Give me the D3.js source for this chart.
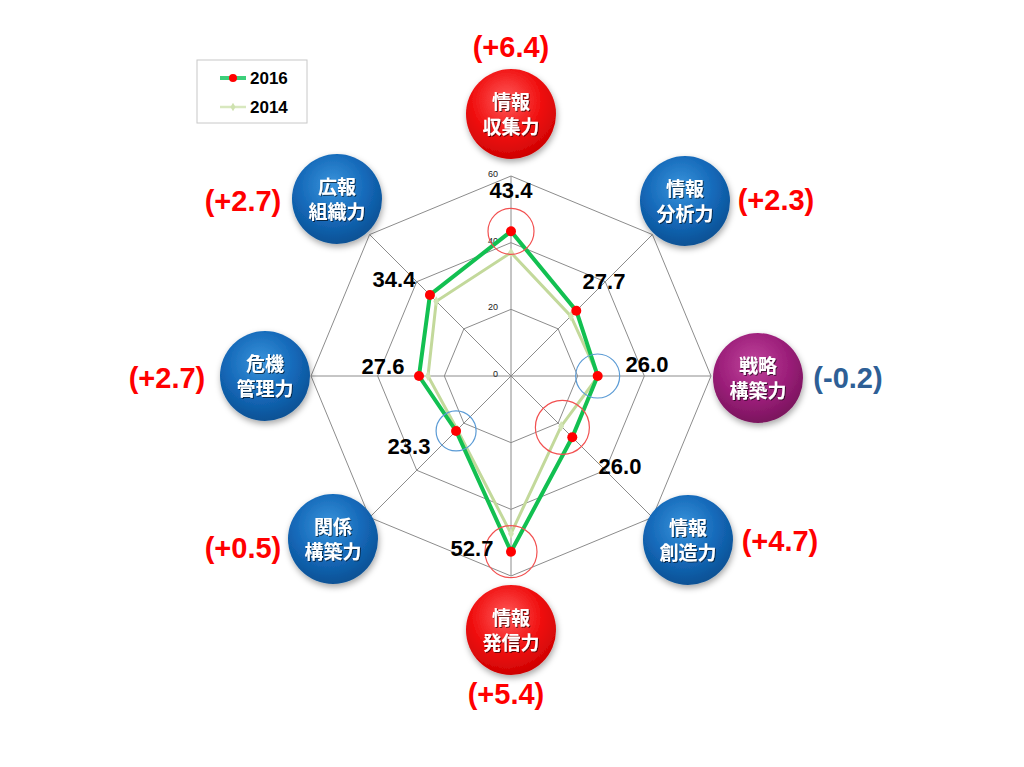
<!DOCTYPE html>
<html>
<head>
<meta charset="utf-8">
<script src="https://cdn.jsdelivr.net/npm/d3@7"></script>
<style>
  body { margin: 0; background: #fff; }
  svg { display: block; }
</style>
</head>
<body>
<div class="container"></div>
<script>
// data
var axes      = ["情報収集力", "情報分析力", "戦略構築力", "情報創造力", "情報発信力", "関係構築力", "危機管理力", "広報組織力"];
var line1     = ["情報", "情報", "戦略", "情報", "情報", "関係", "危機", "広報"];
var line2     = ["収集力", "分析力", "構築力", "創造力", "発信力", "構築力", "管理力", "組織力"];
var v2016     = [43.4, 27.7, 26.0, 26.0, 52.7, 23.3, 27.6, 34.4];
var v2014     = [37.0, 25.4, 26.2, 21.3, 47.3, 22.8, 24.9, 31.7];
var diffs     = ["(+6.4)", "(+2.3)", "(-0.2)", "(+4.7)", "(+5.4)", "(+0.5)", "(+2.7)", "(+2.7)"];
var ticks     = [0, 20, 40, 60];
var kind      = ["red", "blue", "purple", "blue", "red", "blue", "blue", "blue"];
// highlight circles: axis index, value, colour
var hlAxis    = [0, 2, 3, 4, 5];
var hlValue   = [43.4, 26.0, 21.8, 52.7, 23.3];
var hlColor   = ["#f25050", "#5b9bd5", "#f25050", "#f25050", "#5b9bd5"];

var width = 1024, height = 767;
var cx = 511, cy = 376, R = 200;
var num = "'Liberation Sans', Arial, sans-serif";
var jp  = "'Noto Sans CJK JP', sans-serif";

var svg = d3.select(".container").append("svg")
            .attr("width", width).attr("height", height);

var r = d3.scaleLinear().domain([0, 60]).range([0, R]);
var ang = d3.scaleLinear().domain([0, axes.length]).range([0, 2 * Math.PI]);

function pt(i, v) {
  var a = ang(i);
  return [cx + r(v) * Math.sin(a), cy - r(v) * Math.cos(a)];
}

var defs = svg.append("defs");
var grads = {
  red:    ["#ff5a5a", "#f01010", "#c80000"],
  blue:   ["#3a94dc", "#1468b8", "#0a4d8e"],
  purple: ["#c0449c", "#9c1f7a", "#741258"]
};
Object.keys(grads).forEach(function(k) {
  var g = defs.append("radialGradient").attr("id", "g-" + k)
              .attr("cx", "45%").attr("cy", "35%").attr("r", "70%");
  g.append("stop").attr("offset", "0%").attr("stop-color", grads[k][0]);
  g.append("stop").attr("offset", "55%").attr("stop-color", grads[k][1]);
  g.append("stop").attr("offset", "100%").attr("stop-color", grads[k][2]);
});
var sh = defs.append("filter").attr("id", "shadow")
             .attr("x", "-30%").attr("y", "-30%").attr("width", "160%").attr("height", "160%");
sh.append("feDropShadow").attr("dx", 1).attr("dy", 3).attr("stdDeviation", 3)
  .attr("flood-color", "#000").attr("flood-opacity", 0.35);
var tsh = defs.append("filter").attr("id", "tshadow");
tsh.append("feDropShadow").attr("dx", 1).attr("dy", 1).attr("stdDeviation", 0.6)
   .attr("flood-color", "#000").attr("flood-opacity", 0.6);

// grid
var grid = svg.append("g");
var ring = d3.lineRadial().angle(function(d, i) { return ang(i); })
             .radius(function(d) { return r(d); })
             .curve(d3.curveLinearClosed);
ticks.slice(1).forEach(function(t) {
  grid.append("path")
      .attr("transform", `translate(${cx},${cy})`)
      .attr("d", ring(axes.map(function() { return t; })))
      .attr("fill", "none").attr("stroke", "#8c8c8c").attr("stroke-width", 1);
});
axes.forEach(function(a, i) {
  var p = pt(i, 60);
  grid.append("line").attr("x1", cx).attr("y1", cy).attr("x2", p[0]).attr("y2", p[1])
      .attr("stroke", "#8c8c8c").attr("stroke-width", 1);
});
ticks.forEach(function(t) {
  grid.append("text").attr("x", cx - 13).attr("y", cy - r(t) + 1)
      .attr("text-anchor", "end").attr("font-family", num).attr("font-size", 9)
      .attr("fill", "#222").text(t);
});

// series
var radial = d3.lineRadial().angle(function(d, i) { return ang(i); })
               .radius(function(d) { return r(d); })
               .curve(d3.curveLinearClosed);
svg.append("path").attr("transform", `translate(${cx},${cy})`)
   .attr("d", radial(v2014)).attr("fill", "none")
   .attr("stroke", "#c3d99b").attr("stroke-width", 3);
svg.append("g").selectAll("path").data(v2014).enter().append("path")
   .attr("transform", function(d, i) { var p = pt(i, d); return `translate(${p[0]},${p[1]})`; })
   .attr("d", d3.symbol(d3.symbolDiamond, 30)).attr("fill", "#d2e4b4");
svg.append("path").attr("transform", `translate(${cx},${cy})`)
   .attr("d", radial(v2016)).attr("fill", "none")
   .attr("stroke", "#12c051").attr("stroke-width", 4);
svg.append("g").selectAll("circle").data(v2016).enter().append("circle")
   .attr("cx", function(d, i) { return pt(i, d)[0]; })
   .attr("cy", function(d, i) { return pt(i, d)[1]; })
   .attr("r", 5).attr("fill", "#ff0000");

// highlight circles
var hlR = [23, 22, 27, 26, 20];
svg.append("g").selectAll("circle").data(hlAxis).enter().append("circle")
   .attr("cx", function(d, k) { return pt(d, hlValue[k])[0]; })
   .attr("cy", function(d, k) { return pt(d, hlValue[k])[1]; })
   .attr("r", function(d, k) { return hlR[k]; })
   .attr("fill", "none").attr("stroke", function(d, k) { return hlColor[k]; })
   .attr("stroke-width", 1.2);

// value labels
var valPos = [[511, 198], [604, 289], [647, 372], [620, 474], [472, 556], [409, 454], [383, 374], [394, 287]];
svg.append("g").selectAll("text").data(v2016).enter().append("text")
   .attr("x", function(d, i) { return valPos[i][0]; })
   .attr("y", function(d, i) { return valPos[i][1]; })
   .attr("text-anchor", "middle").attr("font-family", num).attr("font-weight", "bold")
   .attr("font-size", 22).attr("fill", "#000")
   .text(function(d) { return d.toFixed(1); });

// bubbles
var bub = [[511, 114], [685, 201], [758, 378], [688, 540], [511, 630], [333, 539], [265, 376], [337, 199]];
var bubbles = svg.append("g").selectAll("g").data(axes).enter().append("g")
   .attr("transform", function(d, i) { return `translate(${bub[i][0]},${bub[i][1]})`; });
bubbles.append("circle").attr("r", 45)
   .attr("fill", function(d, i) { return `url(#g-${kind[i]})`; })
   .attr("filter", "url(#shadow)");
bubbles.append("text").attr("y", -5).attr("text-anchor", "middle")
   .attr("font-family", jp).attr("font-weight", "bold").attr("font-size", 19)
   .attr("fill", "#fff").attr("filter", "url(#tshadow)")
   .text(function(d, i) { return line1[i]; });
bubbles.append("text").attr("y", 20).attr("text-anchor", "middle")
   .attr("font-family", jp).attr("font-weight", "bold").attr("font-size", 19)
   .attr("fill", "#fff").attr("filter", "url(#tshadow)")
   .text(function(d, i) { return line2[i]; });

// change labels
var diffPos = [[511, 57], [776, 210], [848, 388], [780, 551], [506, 704], [243, 558], [167, 388], [243, 211]];
svg.append("g").selectAll("text").data(diffs).enter().append("text")
   .attr("x", function(d, i) { return diffPos[i][0]; })
   .attr("y", function(d, i) { return diffPos[i][1]; })
   .attr("text-anchor", "middle").attr("font-family", num).attr("font-weight", "bold")
   .attr("font-size", 29)
   .attr("fill", function(d) { return d.indexOf("-") >= 0 ? "#2e5f96" : "#ff0000"; })
   .text(function(d) { return d; });

// legend
var lg = svg.append("g").attr("transform", "translate(197,60)");
lg.append("rect").attr("width", 110).attr("height", 63)
  .attr("fill", "#fff").attr("stroke", "#c8c8c8").attr("stroke-width", 1);
lg.append("line").attr("x1", 23).attr("x2", 49).attr("y1", 18).attr("y2", 18)
  .attr("stroke", "#3ccf7a").attr("stroke-width", 4);
lg.append("circle").attr("cx", 36).attr("cy", 18).attr("r", 4).attr("fill", "#ff0000");
lg.append("text").attr("x", 53).attr("y", 24).attr("font-family", num)
  .attr("font-weight", "bold").attr("font-size", 17).text("2016");
lg.append("line").attr("x1", 23).attr("x2", 49).attr("y1", 47).attr("y2", 47)
  .attr("stroke", "#d8e8bf").attr("stroke-width", 2.5);
lg.append("path").attr("transform", "translate(36,47)")
  .attr("d", d3.symbol(d3.symbolDiamond, 22)).attr("fill", "#cfe2b0");
lg.append("text").attr("x", 53).attr("y", 53).attr("font-family", num)
  .attr("font-weight", "bold").attr("font-size", 17).text("2014");
</script>
</body>
</html>
